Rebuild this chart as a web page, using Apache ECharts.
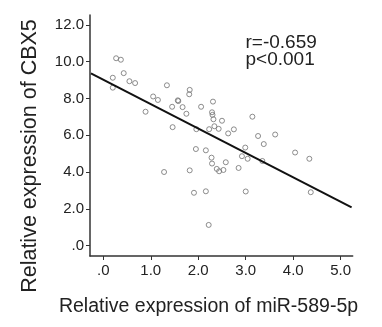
<!DOCTYPE html>
<html>
<head>
<meta charset="utf-8">
<script src="https://cdn.jsdelivr.net/npm/echarts@6/dist/echarts.min.js"></script>
<style>
html,body{margin:0;padding:0;background:#fff;}
#c{width:382px;height:327px;}
</style>
</head>
<body>
<div id="c"></div>
<script>
// miR-589-5p relative expression (x) and CBX5 relative expression (y)
var xValues = [0.27,0.37,0.43,0.20,0.20,0.55,0.67,1.34,1.82,1.81,
  1.05,1.15,1.57,1.58,1.45,1.67,2.06,2.31,0.89,1.75,
  2.29,2.30,2.32,2.50,3.14,1.46,1.96,2.23,2.34,2.43,
  2.63,2.75,3.26,3.62,3.38,1.95,2.16,2.28,2.29,2.58,
  2.39,2.44,2.53,1.28,1.82,2.85,2.99,2.92,3.04,3.35,
  4.04,4.34,1.91,2.16,3.00,4.37,2.22];
var yValues = [10.19,10.11,9.38,9.13,8.59,8.94,8.84,8.72,8.47,8.23,
  8.11,7.92,7.90,7.86,7.55,7.53,7.55,7.83,7.28,7.17,
  7.25,7.11,6.87,6.79,7.01,6.44,6.33,6.33,6.49,6.35,
  6.10,6.32,5.96,6.04,5.52,5.25,5.18,4.78,4.46,4.53,
  4.17,4.04,4.11,4.00,4.09,4.22,5.33,4.86,4.72,4.60,
  5.06,4.72,2.87,2.95,2.94,2.90,1.12];
// fitted line end points
var fitX = [-0.26, 5.23];
var fitY = [9.37, 2.08];
var xTicks = [0,1,2,3,4,5];
var yTicks = [0,2,4,6,8,10,12];
var xTitle = 'Relative expression of miR-589-5p';
var yTitle = 'Relative expression of CBX5';
var statLines = ['r=-0.659', 'p<0.001'];

function fmt(v){ return v === 0 ? '.0' : v.toFixed(1); }

var points = xValues.map(function(x,i){ return [x, yValues[i]]; });
var fit = fitX.map(function(x,i){ return [x, fitY[i]]; });

var FONT = '"Liberation Sans", Arial, sans-serif';
var chart = echarts.init(document.getElementById('c'), null, {renderer:'canvas'});
chart.setOption({
  animation:false,
  backgroundColor:'#fff',
  grid:{left:90, right:29.3, top:15, bottom:71, containLabel:false},
  xAxis:{
    type:'value', min:-0.28, max:5.253,
    axisLine:{onZero:false, lineStyle:{color:'#333', width:1.5}},
    axisTick:{show:true, length:4, customValues:xTicks, lineStyle:{color:'#333'}},
    axisLabel:{customValues:xTicks, formatter:fmt, margin:7, color:'#222', fontSize:15, fontFamily:FONT},
    splitLine:{show:false}
  },
  yAxis:{
    type:'value', min:-0.571, max:12.544,
    axisLine:{show:true, onZero:false, lineStyle:{color:'#333', width:1.5}},
    axisTick:{show:true, length:4, customValues:yTicks, lineStyle:{color:'#333'}},
    axisLabel:{customValues:yTicks, formatter:fmt, margin:6, color:'#222', fontSize:15, fontFamily:FONT},
    splitLine:{show:false}
  },
  series:[
    {type:'scatter', data:points, symbol:'circle', symbolSize:5,
      itemStyle:{color:'rgba(255,255,255,0)', borderColor:'#707070', borderWidth:1}},
    {type:'line', data:fit, symbol:'none', lineStyle:{color:'#111', width:2}, z:3}
  ],
  graphic:[
    {type:'text', x:30, y:156, rotation:Math.PI/2,
      style:{text:yTitle, font:'21.5px '+FONT, fill:'#222', textAlign:'center', textVerticalAlign:'middle'}},
    {type:'text', x:208.5, y:307,
      style:{text:xTitle, font:'19.5px '+FONT, fill:'#222', textAlign:'center', textVerticalAlign:'middle'}},
    {type:'text', x:245.5, y:42.3,
      style:{text:statLines[0], font:'19px '+FONT, fill:'#222', textAlign:'left', textVerticalAlign:'middle'}},
    {type:'text', x:245.5, y:59.3,
      style:{text:statLines[1], font:'19px '+FONT, fill:'#222', textAlign:'left', textVerticalAlign:'middle'}}
  ]
});
</script>
</body>
</html>
